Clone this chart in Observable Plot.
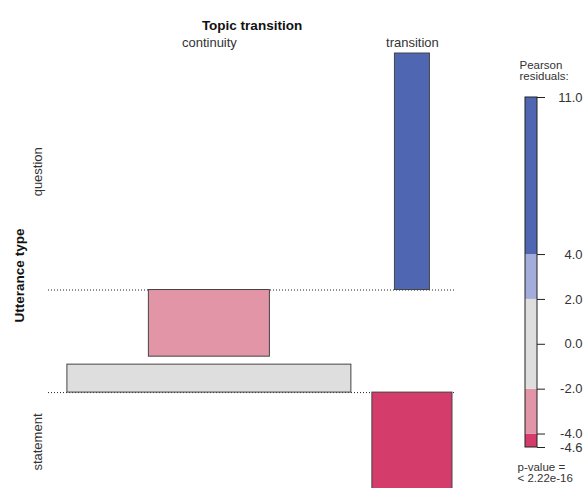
<!DOCTYPE html>
<html><head><meta charset="utf-8">
<script src="https://cdn.jsdelivr.net/npm/d3@7"></script>
<script src="https://cdn.jsdelivr.net/npm/@observablehq/plot@0.6"></script>
<style>
html,body{margin:0;padding:0;overflow:hidden;background:#fff;}
#wrap{position:relative;width:585px;height:488px;overflow:hidden;}
#wrap svg{position:absolute;left:0;top:0;}
</style></head><body><div id="wrap"></div>
<script>
// ---- data ----
const rows = ["question", "statement"];          // Utterance type
const cols = ["continuity", "transition"];       // Topic transition
const residuals = [[-3.1, 11.0], [1.3, -4.6]];   // Pearson residuals
const expected = [[299, 25], [1646, 131]];       // expected counts (bar widths ~ sqrt)
const legendBreaks = [-4.6, -4, -2, 2, 4, 11.0];
const legendTicks = [11.0, 4, 2, 0, -2, -4, -4.6];
const legendColors = ["#D43C6B", "#E295A6", "#DEDEDE", "#A3ACDA", "#4F67B2"];
const titleX = "Topic transition";
const titleY = "Utterance type";
const legendTitle = ["Pearson", "residuals:"];
const pText = ["p-value =", "< 2.22e-16"];

const shade = r => r > 4 ? legendColors[4] : r > 2 ? legendColors[3] : r < -4 ? legendColors[0] : r < -2 ? legendColors[1] : legendColors[2];
const font = "Liberation Sans, Arial, Helvetica, sans-serif";

// ---- layout in data units ----
const gapX = 3, gapY = 0.37;
const sq = expected.map(r => r.map(Math.sqrt));
const colWidth = cols.map((c, j) => d3.max(rows, (r, i) => sq[i][j]));
const colStart = [];
cols.forEach((c, j) => colStart.push(j === 0 ? 0 : colStart[j - 1] + colWidth[j - 1] + gapX));
const colCenter = cols.map((c, j) => colStart[j] + colWidth[j] / 2);
const rowPos = residuals.map(r => Math.max(0, d3.max(r)));
const rowNeg = residuals.map(r => Math.max(0, -d3.min(r)));
const baseline = new Array(rows.length);
baseline[rows.length - 1] = 0;
for (let i = rows.length - 2; i >= 0; i--) baseline[i] = baseline[i + 1] + rowPos[i + 1] + gapY + rowNeg[i];
const yTop = baseline[0] + rowPos[0];
const yBot = -rowNeg[rows.length - 1];
const totalW = colStart[cols.length - 1] + colWidth[cols.length - 1];

const cells = [];
rows.forEach((r, i) => cols.forEach((c, j) => {
  const w = sq[i][j];
  cells.push({row: r, col: c, res: residuals[i][j],
    x1: colCenter[j] - w / 2, x2: colCenter[j] + w / 2,
    y1: baseline[i], y2: baseline[i] + residuals[i][j]});
}));
const rowLabels = rows.map((r, i) => {
  const ext = residuals[i].reduce((a, b) => Math.abs(b) > Math.abs(a) ? b : a, 0);
  return {label: r, y: baseline[i] + ext / 2};
});
const colLabels = cols.map((c, j) => ({label: c, x: colCenter[j]}));

const main = Plot.plot({
  width: 585, height: 491,
  marginLeft: 48, marginRight: 130, marginTop: 53, marginBottom: 0,
  x: {domain: [-2.7, totalW + 0.43], axis: null},
  y: {domain: [yBot, yTop], axis: null},
  style: {fontFamily: font, fontSize: "13px", background: "white", color: "#222"},
  marks: [
    Plot.ruleY(baseline, {stroke: "#222", strokeDasharray: "1,2", strokeWidth: 1}),
    Plot.rect(cells, {x1: "x1", x2: "x2", y1: "y1", y2: "y2", fill: d => shade(d.res), stroke: "#444", strokeWidth: 1}),
    Plot.text(colLabels, {x: "x", text: "label", frameAnchor: "top", dy: -16, fontSize: 13, fill: "#333"}),
    Plot.text([titleX], {frameAnchor: "top", dy: -33, fontSize: 13.5, fontWeight: "bold", fill: "#111"}),
    Plot.text(rowLabels, {y: "y", text: "label", frameAnchor: "left", textAnchor: "middle", dx: -11, rotate: -90, fontSize: 13, fill: "#333"}),
    Plot.text([titleY], {frameAnchor: "left", textAnchor: "middle", dx: -29, dy: 3, rotate: -90, fontSize: 13.5, fontWeight: "bold", fill: "#111"})
  ]
});

const segs = legendColors.map((c, k) => ({lo: legendBreaks[k], hi: legendBreaks[k + 1], color: c}));
const lineText = (txt, anchor, dx, dy) =>
  Plot.text([txt], {frameAnchor: anchor, dx, dy, lineAnchor: "top", textAnchor: "start", fontSize: 11.5, fill: "#333"});
const legend = Plot.plot({
  width: 585, height: 488,
  marginLeft: 525, marginRight: 48, marginTop: 97, marginBottom: 41,
  x: {domain: [0, 1], axis: null},
  y: {domain: [legendBreaks[0], legendBreaks[legendBreaks.length - 1]], axis: null},
  style: {fontFamily: font, fontSize: "13px", background: "transparent", color: "#222"},
  marks: [
    Plot.rect(segs, {x1: 0, x2: 1, y1: "lo", y2: "hi", fill: "color"}),
    Plot.rect([{lo: legendBreaks[0], hi: legendBreaks[legendBreaks.length - 1]}], {x1: 0, x2: 1, y1: "lo", y2: "hi", fill: "none", stroke: "#222"}),
    Plot.ruleY(legendTicks, {x1: 1, x2: 1.667, stroke: "#222"}),
    Plot.text(legendTicks, {y: d => d, text: d => d.toFixed(1), frameAnchor: "right", dx: 45, textAnchor: "end", fontSize: 13, fill: "#333"}),
    lineText(legendTitle[0], "top-left", -6, -37),
    lineText(legendTitle[1], "top-left", -6, -25.5),
    lineText(pText[0], "bottom-left", -8, 15),
    lineText(pText[1], "bottom-left", -8, 26.5)
  ]
});

const wrap = document.getElementById("wrap");
wrap.appendChild(main);
wrap.appendChild(legend);
</script></body></html>
